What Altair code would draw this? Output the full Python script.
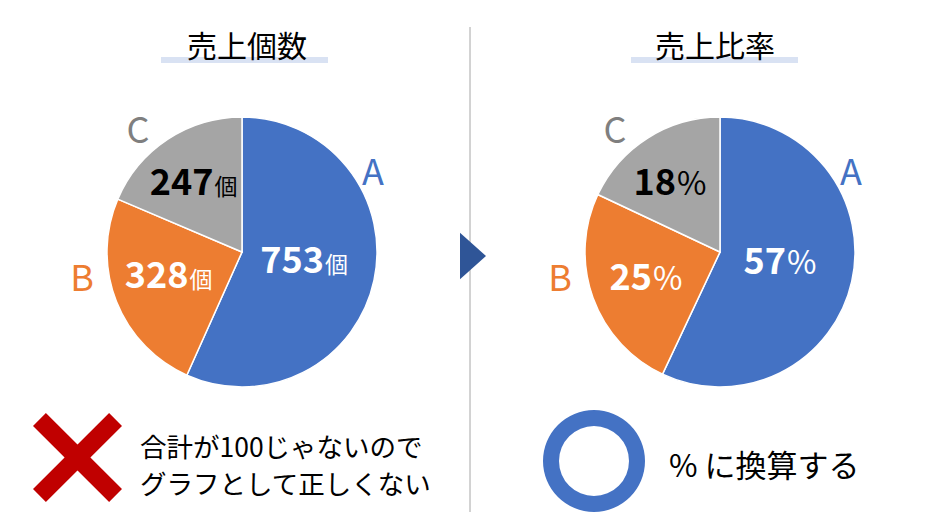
import altair as alt
import pandas as pd

# ---- data ----
cats = ['A', 'B', 'C']
counts = [753, 328, 247]
ratios = [57, 25, 18]
titles = ['売上個数', '売上比率']
suffixes = ['個', '%']
note_ng = ['合計が100じゃないので', 'グラフとして正しくない']
note_ok = ['% に換算する']

# ---- style ----
FONT = 'Noto Sans CJK JP'
slice_colors = ['#4472C4', '#ED7D31', '#A5A5A5']
letter_colors = ['#4472C4', '#ED7D31', '#7F7F7F']
R = 135
one = pd.DataFrame({'k': [0]})


def pie(values, suffix, suffix_size, cx, cy, label_offsets, letter_offsets):
    df = pd.DataFrame({'cat': cats, 'value': values, 'order': list(range(len(cats)))})
    base = alt.Chart(df).transform_stack(
        stack='value', groupby=[], as_=['v0', 'v1'], offset='normalize',
        sort=[alt.SortField('order')]
    ).transform_calculate(
        mid='(datum.v0 + datum.v1) / 2',
        label="format(datum.value, 'd')"
    )
    tscale = alt.Scale(domain=[0, 1])
    arcs = base.mark_arc(outerRadius=R, stroke='white', strokeWidth=1.5).encode(
        theta=alt.Theta('v0:Q', scale=tscale),
        theta2='v1:Q',
        color=alt.Color('cat:N', scale=alt.Scale(domain=cats, range=slice_colors), legend=None),
        x=alt.value(cx), y=alt.value(cy),
    )
    layers = [arcs]
    for cat, (dx, dy), (lx, ly), lc in zip(cats, label_offsets, letter_offsets, letter_colors):
        sub = base.transform_filter(alt.datum.cat == cat)
        tc = 'black' if cat == 'C' else 'white'
        pos = dict(theta=alt.Theta('mid:Q', scale=tscale), radius=alt.value(70),
                   x=alt.value(cx), y=alt.value(cy))
        num = sub.mark_text(font=FONT, fontSize=36, fontWeight='bold', align='right',
                            baseline='alphabetic', dx=dx - 1, dy=dy, color=tc).encode(
            text='label:N', **pos)
        suf = sub.mark_text(font=FONT, fontSize=suffix_size, fontWeight='normal', align='left',
                            baseline='alphabetic', dx=dx, dy=dy, color=tc).encode(
            text=alt.value(suffix), **pos)
        letter = sub.mark_text(font=FONT, fontSize=36, align='center', baseline='middle',
                               dx=lx, dy=ly, color=lc).encode(
            text='cat:N', x=alt.value(cx), y=alt.value(cy))
        layers += [num, suf, letter]
    return alt.layer(*layers)


left = pie(counts, suffixes[0], 23, 234, 244,
           [(14.5, 6.4), (12.7, 10.4), (11.1, 1.4)],
           [(131, -78), (-160, 28), (-104, -120)])
right = pie(ratios, suffixes[1], 32, 712, 244,
            [(-1.3, 6.7), (-1.1, 14.3), (-5.5, 2.1)],
            [(131, -78), (-160, 28), (-105, -120)])

# ---- decorations ----
deco = []
for t, cx, (x0, x1) in zip(titles, [239, 707], [(153, 320), (623, 790)]):
    deco.append(alt.Chart(one).mark_rect(color='#D9E2F3').encode(
        x=alt.value(x0), x2=alt.value(x1), y=alt.value(49), y2=alt.value(55)))
    deco.append(alt.Chart(pd.DataFrame({'t': [t]})).mark_text(
        font=FONT, fontSize=30, color='black', align='center', baseline='middle').encode(
        text='t:N', x=alt.value(cx), y=alt.value(39.5)))

# separator and arrow
deco.append(alt.Chart(one).mark_rule(color='#A6A6A6', strokeWidth=1).encode(
    x=alt.value(462), y=alt.value(19), y2=alt.value(504)))
deco.append(alt.Chart(one).mark_point(
    shape='M-0.558,-1 L0.558,0 L-0.558,1 Z', size=2170, filled=True, opacity=1,
    color='#2F5597').encode(x=alt.value(465), y=alt.value(248)))

# red cross
deco.append(alt.Chart(one).mark_point(
    shape='M-0.71,-1 L0,-0.29 L0.71,-1 L1,-0.71 L0.29,0 L1,0.71 L0.71,1 L0,0.29 '
          'L-0.71,1 L-1,0.71 L-0.29,0 L-1,-0.71 Z',
    size=7921, filled=True, opacity=1, color='#C00000').encode(
    x=alt.value(69.5), y=alt.value(449.5)))

# blue ring
deco.append(alt.Chart(one).mark_arc(innerRadius=35, outerRadius=51, theta=0, theta2=6.2832,
                                    color='#4472C4').encode(
    x=alt.value(586), y=alt.value(453)))

# notes
for line, y in zip(note_ng, [440.5, 477.5]):
    deco.append(alt.Chart(pd.DataFrame({'t': [line]})).mark_text(
        font=FONT, fontSize=26.5, color='black', align='left', baseline='middle').encode(
        text='t:N', x=alt.value(132), y=alt.value(y)))
deco.append(alt.Chart(pd.DataFrame({'t': note_ok})).mark_text(
    font=FONT, fontSize=31, color='black', align='left', baseline='middle').encode(
    text='t:N', x=alt.value(661), y=alt.value(459.5)))

chart = alt.layer(*deco, left, right).properties(
    width=924, height=508, padding=0, autosize=alt.AutoSizeParams(type='none')
).configure_view(stroke=None)

chart.save('out.html', embed_options={'renderer': 'svg', 'actions': False})
